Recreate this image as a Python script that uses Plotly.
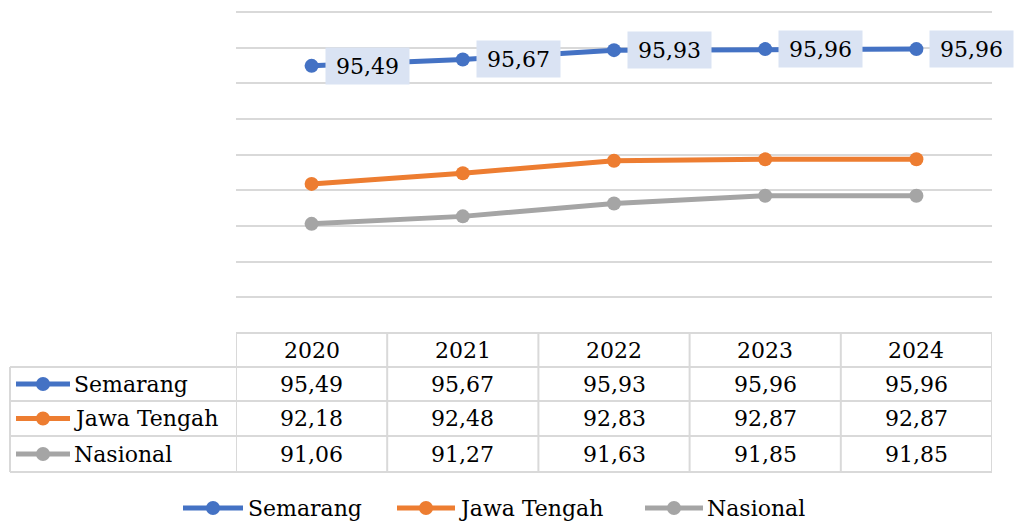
import plotly.graph_objects as go

# Chart data
years = ["2020", "2021", "2022", "2023", "2024"]
semarang = [95.49, 95.67, 95.93, 95.96, 95.96]
jawa_tengah = [92.18, 92.48, 92.83, 92.87, 92.87]
nasional = [91.06, 91.27, 91.63, 91.85, 91.85]

series_names = ["Semarang", "Jawa Tengah", "Nasional"]
series_values = [semarang, jawa_tengah, nasional]
series_colors = ["#4472C4", "#ED7D31", "#A5A5A5"]

W, H = 1014, 523
FONT = "DejaVu Serif"
FS = 22
GRID = "#D9D9D9"

# plot area geometry (pixels) and value range
PLOT_TOP, PLOT_BOT = 12, 333
Y_MIN, Y_MAX = 88, 97
PAD = 0.1
scale = (PLOT_BOT - PLOT_TOP) / (Y_MAX - Y_MIN)


def px(x):
    return x / W


def py(y):
    return 1 - y / H


def fmt(v):
    return f"{v:.2f}".replace(".", ",")


fig = go.Figure()

for name, vals, col in zip(series_names, series_values, series_colors):
    fig.add_trace(go.Scatter(
        x=list(range(len(years))), y=vals, name=name,
        mode="lines+markers",
        line=dict(color=col, width=5),
        marker=dict(color=col, size=14),
        hoverinfo="skip", showlegend=False,
    ))

annotations = []
shapes = []

# Value labels for the Semarang series
for i, v in enumerate(semarang):
    annotations.append(dict(
        x=i, y=v, xref="x", yref="y", text=fmt(v), showarrow=False,
        xanchor="left", yanchor="middle", xshift=13,
        bgcolor="#DAE3F3", borderpad=4, width=75, height=28, align="center",
        font=dict(family=FONT, size=FS, color="#000000"),
    ))

# Data table beneath the plot
row_edges = [333, 367, 401, 436, 472]
left_x = 10
bw = 2

shapes.append(dict(type="line", xref="x", yref="paper", x0=-0.5, x1=len(years) - 0.5,
                   y0=py(row_edges[0]), y1=py(row_edges[0]), line=dict(color=GRID, width=bw)))
for ye in row_edges[1:]:
    shapes.append(dict(type="line", xref="paper", yref="paper", x0=px(left_x), x1=px(992),
                       y0=py(ye), y1=py(ye), line=dict(color=GRID, width=bw)))
for k in range(len(years) + 1):
    shapes.append(dict(type="line", xref="x", yref="paper", x0=k - 0.5, x1=k - 0.5,
                       y0=py(row_edges[0]), y1=py(row_edges[-1]), line=dict(color=GRID, width=bw)))
shapes.append(dict(type="line", xref="paper", yref="paper", x0=px(left_x), x1=px(left_x),
                   y0=py(row_edges[1]), y1=py(row_edges[-1]), line=dict(color=GRID, width=bw)))

for i, yr in enumerate(years):
    annotations.append(dict(
        x=i, y=py((row_edges[0] + row_edges[1]) / 2), xref="x", yref="paper",
        text=yr, showarrow=False, xanchor="center", yanchor="middle",
        font=dict(family=FONT, size=FS, color="#000000"),
    ))


def legend_key(x0, x1, yc, col):
    xm = (x0 + x1) / 2
    shapes.append(dict(type="line", xref="paper", yref="paper", x0=px(x0), x1=px(x1),
                       y0=yc, y1=yc, line=dict(color=col, width=5)))
    shapes.append(dict(type="circle", xref="paper", yref="paper",
                       x0=px(xm - 7), x1=px(xm + 7), y0=yc - 7 / H, y1=yc + 7 / H,
                       fillcolor=col, line=dict(color=col, width=0)))


for r, (name, vals, col) in enumerate(zip(series_names, series_values, series_colors)):
    yc = py((row_edges[r + 1] + row_edges[r + 2]) / 2)
    legend_key(16, 70, yc, col)
    annotations.append(dict(
        x=px(72), y=yc, xref="paper", yref="paper", text=name, showarrow=False,
        xanchor="left", yanchor="middle",
        font=dict(family=FONT, size=FS, color="#000000"),
    ))
    for i, v in enumerate(vals):
        annotations.append(dict(
            x=i, y=yc, xref="x", yref="paper", text=fmt(v), showarrow=False,
            xanchor="center", yanchor="middle",
            font=dict(family=FONT, size=FS, color="#000000"),
        ))

# Legend along the bottom
legend_y = py(508)
legend_keys = [(183, 243, 246), (397, 455, 457), (645, 703, 705)]
for name, col, (k0, k1, tx) in zip(series_names, series_colors, legend_keys):
    legend_key(k0, k1, legend_y, col)
    annotations.append(dict(
        x=px(tx), y=legend_y, xref="paper", yref="paper", text=name, showarrow=False,
        xanchor="left", yanchor="middle",
        font=dict(family=FONT, size=FS, color="#000000"),
    ))

fig.update_layout(
    width=W, height=H,
    margin=dict(l=0, r=0, t=0, b=0),
    paper_bgcolor="white", plot_bgcolor="white",
    font=dict(family=FONT, size=FS, color="#000000"),
    xaxis=dict(domain=[px(236), px(992)], range=[-0.5, len(years) - 0.5],
               showgrid=False, showticklabels=False, zeroline=False, showline=False,
               ticks=""),
    yaxis=dict(domain=[py(PLOT_BOT), py(PLOT_TOP - PAD * scale)],
               range=[Y_MIN, Y_MAX + PAD], tick0=Y_MIN, dtick=1,
               showgrid=True, gridcolor=GRID, gridwidth=2,
               showticklabels=False, zeroline=False, showline=False, ticks=""),
    showlegend=False,
    shapes=shapes,
    annotations=annotations,
)

fig.write_html("out.html")
